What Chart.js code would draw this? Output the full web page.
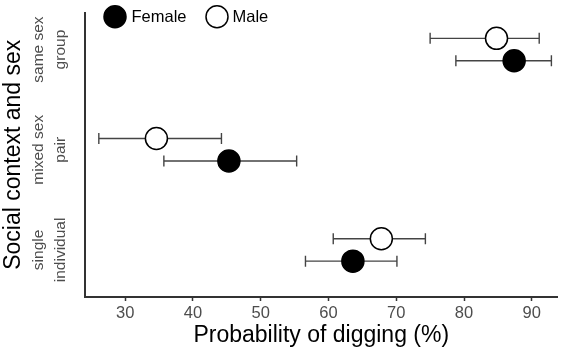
<!DOCTYPE html>
<html>
<head>
<meta charset="utf-8">
<script src="https://cdn.jsdelivr.net/npm/chart.js@4"></script>
<style>
  body { margin: 0; background: #fff; }
</style>
</head>
<body>
<canvas id="chart" width="570" height="354"></canvas>
<script>
const categories = [["single", "individual"], ["mixed sex", "pair"], ["same sex", "group"]];
const category_pos = [1, 2, 3];
const female_mean = [63.6, 45.3, 87.4];
const female_low = [56.6, 35.7, 78.8];
const female_high = [70.1, 55.3, 92.9];
const male_mean = [67.8, 34.6, 84.8];
const male_low = [60.7, 26.1, 75.0];
const male_high = [74.3, 44.2, 91.1];
const x_ticks = [30, 40, 50, 60, 70, 80, 90];

const font = "'Liberation Sans', Arial, sans-serif";
Chart.defaults.font.family = font;

// dodge the two sexes inside each category
const dodge = 0.112;
const female_pts = female_mean.map((v, i) => ({ x: v, y: category_pos[i] - dodge }));
const male_pts = male_mean.map((v, i) => ({ x: v, y: category_pos[i] + dodge }));

const errorBars = {
  id: "errorBars",
  beforeDatasetsDraw(chart) {
    const ctx = chart.ctx;
    const xs = chart.scales.x;
    ctx.save();
    ctx.strokeStyle = "#444";
    ctx.lineWidth = 1.4;
    chart.data.datasets.forEach((ds, i) => {
      chart.getDatasetMeta(i).data.forEach((pt, j) => {
        const x0 = xs.getPixelForValue(ds.errLow[j]);
        const x1 = xs.getPixelForValue(ds.errHigh[j]);
        const y = pt.y;
        ctx.beginPath();
        ctx.moveTo(x0, y); ctx.lineTo(x1, y);
        ctx.moveTo(x0, y - 5.5); ctx.lineTo(x0, y + 5.5);
        ctx.moveTo(x1, y - 5.5); ctx.lineTo(x1, y + 5.5);
        ctx.stroke();
      });
    });
    ctx.restore();
  },
};

const extras = {
  id: "extras",
  afterDraw(chart) {
    const ctx = chart.ctx;
    const ys = chart.scales.y;
    ctx.save();
    // category labels, rotated like the y title
    ctx.fillStyle = "#4d4d4d";
    ctx.font = "15.5px " + font;
    ctx.textAlign = "center";
    ctx.textBaseline = "middle";
    categories.forEach((lines, i) => {
      const y = ys.getPixelForValue(category_pos[i]);
      lines.forEach((txt, k) => {
        ctx.save();
        ctx.translate(39 + k * 22, y);
        ctx.rotate(-Math.PI / 2);
        ctx.fillText(txt, 0, 0);
        ctx.restore();
      });
    });
    // legend
    const items = [
      { label: "Female", fill: "#000", cx: 115, tx: 131.5 },
      { label: "Male", fill: "#fff", cx: 217, tx: 232.5 },
    ];
    ctx.font = "16.5px " + font;
    ctx.textAlign = "left";
    items.forEach((it) => {
      ctx.beginPath();
      ctx.arc(it.cx, 16.7, 11, 0, Math.PI * 2);
      ctx.fillStyle = it.fill;
      ctx.fill();
      ctx.lineWidth = 1.5;
      ctx.strokeStyle = "#000";
      ctx.stroke();
      ctx.fillStyle = "#000";
      ctx.fillText(it.label, it.tx, 17);
    });
    ctx.restore();
  },
};

new Chart(document.getElementById("chart"), {
  type: "scatter",
  data: {
    datasets: [
      {
        label: "Female",
        data: female_pts,
        errLow: female_low,
        errHigh: female_high,
        pointRadius: 11,
        backgroundColor: "#000",
        borderColor: "#000",
        borderWidth: 1.5,
      },
      {
        label: "Male",
        data: male_pts,
        errLow: male_low,
        errHigh: male_high,
        pointRadius: 11,
        backgroundColor: "#fff",
        borderColor: "#000",
        borderWidth: 1.5,
      },
    ],
  },
  options: {
    responsive: false,
    animation: false,
    events: [],
    layout: { padding: { top: 5, right: 3, left: 0, bottom: 0 } },
    plugins: {
      legend: { display: false },
      tooltip: { enabled: false },
    },
    scales: {
      x: {
        type: "linear",
        min: 24.06,
        max: 93.8,
        afterBuildTicks: (s) => { s.ticks = x_ticks.map((v) => ({ value: v })); },
        afterFit: (s) => { s.height = 57; },
        grid: { drawOnChartArea: false, tickLength: 4, color: "#333", tickWidth: 1.5 },
        border: { color: "#333", width: 2 },
        ticks: { color: "#4d4d4d", font: { size: 16.5 }, padding: 3, maxRotation: 0 },
        title: {
          display: true,
          text: "Probability of digging (%)",
          color: "#000",
          font: { size: 23 },
          padding: { top: 0, bottom: 5 },
        },
      },
      y: {
        type: "linear",
        min: 0.53,
        max: 3.37,
        afterFit: (s) => { s.width = 85; },
        grid: { display: false },
        border: { color: "#333", width: 2 },
        ticks: { display: false },
        title: {
          display: true,
          text: "Social context and sex",
          color: "#000",
          font: { size: 23 },
          padding: { top: 0, bottom: 0 },
        },
      },
    },
  },
  plugins: [errorBars, extras],
});
</script>
</body>
</html>
